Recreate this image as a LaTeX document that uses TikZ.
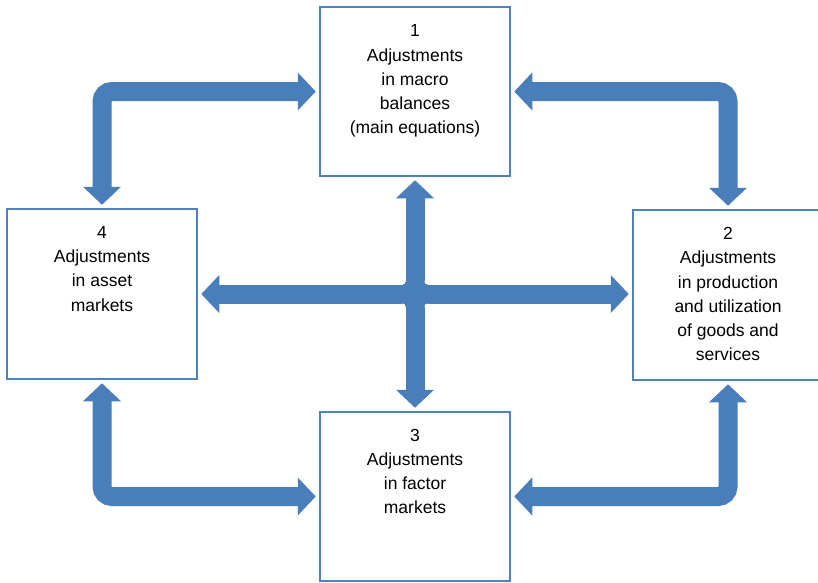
\documentclass[tikz,border=0pt]{standalone}
\usepackage{fontspec}
\setmainfont{Liberation Sans}
\usetikzlibrary{arrows.meta}
\definecolor{flowblue}{RGB}{74,126,187}
\definecolor{edgeblue}{RGB}{79,129,189}
\begin{document}
\begin{tikzpicture}[x=1pt,y=-1pt,
  stage/.style={draw=edgeblue, line width=1.5pt, fill=white, rectangle,
    inner sep=0pt, minimum width=190pt},
  caption/.style={anchor=north, align=center, inner sep=0pt,
    font=\fontsize{17.5}{24.2}\selectfont, text=black},
  flow/.style={draw=flowblue, line width=19pt,
    {Triangle[length=18pt,width=37pt]}-{Triangle[length=18pt,width=37pt]},
    shorten <=3.5pt, shorten >=3.5pt},
  bentflow/.style={flow, rounded corners=10pt}]
\useasboundingbox (0,0) rectangle (818,582);
\clip (0,0) rectangle (818,582);

% the four adjustment blocks
\node[stage, minimum height=169pt] (b1) at (415,91.5) {};
\node[stage, minimum height=170pt] (b2) at (728,295) {};
\node[stage, minimum height=169pt] (b3) at (415,496.5) {};
\node[stage, minimum height=170pt] (b4) at (102,294) {};

\node[caption] (t1) at ([yshift=-18.5pt]b1.north)
  {1\\Adjustments\\in macro\\balances\\(main equations)};
\node[caption] (t2) at ([yshift=-18pt]b2.north)
  {2\\Adjustments\\in production\\and utilization\\of goods and\\services};
\node[caption] (t3) at ([yshift=-17.5pt]b3.north)
  {3\\Adjustments\\in factor\\markets};
\node[caption] (t4) at ([yshift=-18pt]b4.north)
  {4\\Adjustments\\in asset\\markets};

% links around the outside
\draw[bentflow] (b4.north) |- (b1.west);
\draw[bentflow] (b1.east) -| (b2.north);
\draw[bentflow] (b4.south) |- (b3.west);
\draw[bentflow] (b3.east) -| (b2.south);

% central cross
\draw[flow] (b4.east) -- (b4.east -| b2.west);
\draw[flow] (b1.south) -- (b3.north);
\coordinate (hub) at (b1.south |- b4.east);
% small fillets where the two shafts meet
\fill[flowblue] ([shift={(-12.5,-12.5)}]hub) rectangle ([shift={(12.5,12.5)}]hub);
\foreach \dx/\dy in {-12.5/-12.5, 12.5/-12.5, -12.5/12.5, 12.5/12.5}
  \fill[white] ([shift={(\dx,\dy)}]hub) circle[radius=3pt];
\end{tikzpicture}
\end{document}
